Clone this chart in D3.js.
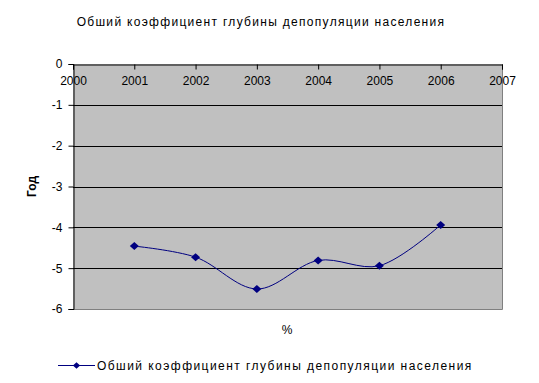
<!DOCTYPE html>
<html lang="ru">
<head>
  <meta charset="UTF-8" />
  <title>Обший коэффициент глубины депопуляции населения</title>
  <style>
    body { margin: 0; background: #fff; font-family: Arial, "Liberation Sans", sans-serif; }
    svg text { font-family: Arial, "Liberation Sans", sans-serif; fill: #000; }
  </style>
</head>
<body>
  <div id="chart"></div>
  <script src="https://cdn.jsdelivr.net/npm/d3@7"></script>
  <script>
    const chartTitle = "Обший коэффициент глубины депопуляции населения";
    const years = [2001, 2002, 2003, 2004, 2005, 2006];
    const values = [-4.46, -4.73, -5.51, -4.81, -4.94, -3.94];
    const xTicks = [2000, 2001, 2002, 2003, 2004, 2005, 2006, 2007];
    const yTicks = [0, -1, -2, -3, -4, -5, -6];

    const W = 539, H = 383;
    const plot = { left: 73, right: 502, top: 64, bottom: 309 };

    const svg = d3.select("#chart").append("svg")
      .attr("width", W).attr("height", H);

    const x = d3.scaleLinear().domain([2000, 2007]).range([plot.left, plot.right]);
    const y = d3.scaleLinear().domain([0, -6]).range([plot.top, plot.bottom]);

    // plot area
    svg.append("rect")
      .attr("x", plot.left).attr("y", plot.top)
      .attr("width", plot.right - plot.left).attr("height", plot.bottom - plot.top)
      .attr("fill", "#c0c0c0");
    svg.append("path")
      .attr("d", `M${plot.right + 0.5},${plot.top}V${plot.bottom + 0.5}H${plot.left}`)
      .attr("fill", "none").attr("stroke", "#808080");

    // gridlines
    svg.append("g").selectAll("line")
      .data(yTicks.filter(d => d !== 0 && d !== -6))
      .join("line")
      .attr("x1", plot.left).attr("x2", plot.right)
      .attr("y1", d => Math.round(y(d)) + 0.5).attr("y2", d => Math.round(y(d)) + 0.5)
      .attr("stroke", "#000");

    // y axis
    const yAxis = svg.append("g")
      .attr("transform", `translate(${plot.left + 0.5},0)`)
      .call(d3.axisLeft(y).tickValues(yTicks).tickSize(5).tickPadding(6).tickFormat(d => d));
    yAxis.select(".domain").attr("stroke", "#000");
    yAxis.selectAll("text").attr("font-size", 12).style("font-family", "Arial, 'Liberation Sans', sans-serif");

    // x axis at 0 line, ticks inward, labels below
    const xAxis = svg.append("g")
      .attr("transform", `translate(0,${plot.top + 0.5})`)
      .call(d3.axisBottom(x).tickValues(xTicks).tickSize(5).tickPadding(7).tickFormat(d3.format("d")));
    xAxis.select(".domain").attr("stroke", "#000");
    xAxis.selectAll("text").attr("font-size", 12).style("font-family", "Arial, 'Liberation Sans', sans-serif");

    // line
    const pts = years.map((yr, i) => [x(yr), y(values[i])]);
    svg.append("path")
      .datum(pts)
      .attr("d", d3.line().curve(d3.curveCatmullRom.alpha(0.5)))
      .attr("fill", "none").attr("stroke", "#000080").attr("stroke-width", 1);

    // wide Excel-style diamond marker
    const wideDiamond = {
      draw(ctx) {
        ctx.moveTo(-4.5, 0); ctx.lineTo(0, -4); ctx.lineTo(4.5, 0); ctx.lineTo(0, 4); ctx.closePath();
      }
    };
    const diamond = d3.symbol().type(wideDiamond);
    svg.append("g").selectAll("path")
      .data(pts)
      .join("path")
      .attr("transform", d => `translate(${d[0]},${d[1]})`)
      .attr("d", diamond)
      .attr("fill", "#000080");

    // titles
    svg.append("text")
      .attr("x", 261).attr("y", 26)
      .attr("text-anchor", "middle")
      .attr("font-size", 12).attr("letter-spacing", 1.3)
      .text(chartTitle);

    svg.append("text")
      .attr("transform", `translate(36,${(plot.top + plot.bottom) / 2}) rotate(-90)`)
      .attr("text-anchor", "middle")
      .attr("font-size", 12).attr("font-weight", "bold")
      .text("Год");

    svg.append("text")
      .attr("x", 287).attr("y", 334)
      .attr("text-anchor", "middle")
      .attr("font-size", 12)
      .text("%");

    // legend
    const lg = svg.append("g").attr("transform", "translate(58,365)");
    lg.append("line").attr("x1", 0).attr("x2", 37).attr("y1", 0.5).attr("y2", 0.5)
      .attr("stroke", "#000080");
    lg.append("path").attr("transform", "translate(18.5,0.5) scale(0.8)").attr("d", diamond).attr("fill", "#000080");
    lg.append("text").attr("x", 39).attr("y", 5)
      .attr("font-size", 12).attr("letter-spacing", 1.45)
      .text(chartTitle);
  </script>
</body>
</html>
